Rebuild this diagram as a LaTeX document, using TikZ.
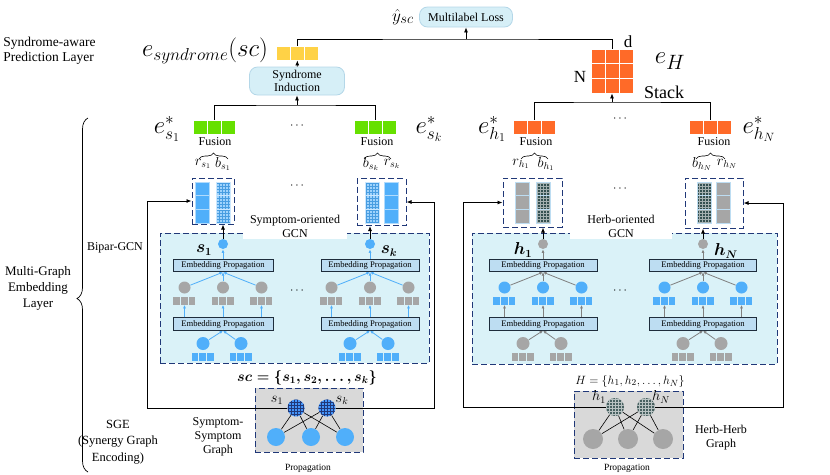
\documentclass[tikz,border=0pt]{standalone}
\usepackage{fontspec}
\setmainfont{Liberation Serif}
\usetikzlibrary{arrows.meta,patterns,decorations.pathreplacing,positioning}

\definecolor{lossfill}{RGB}{214,239,247}
\definecolor{lossline}{RGB}{180,215,232}
\definecolor{gcnfill}{RGB}{218,242,248}
\definecolor{navy}{RGB}{32,56,120}
\definecolor{propfill}{RGB}{189,221,242}
\definecolor{propline}{RGB}{30,45,60}
\definecolor{sblue}{RGB}{80,175,250}
\definecolor{hgray}{RGB}{166,166,166}
\definecolor{arrgray}{RGB}{128,128,128}
\definecolor{vgreen}{RGB}{102,224,0}
\definecolor{vyellow}{RGB}{255,210,70}
\definecolor{vorange}{RGB}{255,106,40}
\definecolor{darkslate}{RGB}{52,80,80}
\definecolor{graphfill}{RGB}{217,217,217}

\tikzset{
  every node/.style={font=\fontsize{12}{14}\selectfont, inner sep=1pt},
  softbox/.style={draw=lossline, fill=lossfill, rounded corners=8pt, align=center, inner sep=2pt},
  prop/.style={draw=propline, fill=propfill, line width=0.8pt, minimum height=12.5pt, inner sep=0pt, font=\fontsize{8.6}{10}\selectfont},
  navydash/.style={draw=navy, dash pattern=on 6pt off 3pt, line width=1pt, inner sep=0pt},
  ball/.style={circle, fill=#1, inner sep=0pt, minimum size=10pt},
  arr/.style={-{Latex[length=5pt,width=4pt]}, line width=0.8pt},
  flow/.style={draw=#1, line width=0.8pt, -{Latex[length=3.5pt,width=3pt]}},
  bigmath/.style={font=\fontsize{25}{27}\selectfont},
  midmath/.style={font=\fontsize{16}{18}\selectfont\boldmath},
  smallmath/.style={font=\fontsize{14}{16}\selectfont},
  fbrace/.style={decorate, decoration={brace, amplitude=6pt}, line width=0.6pt},
  solidcol/.style={fill=sblue, draw=sblue!45!white, line width=0.5pt},
  hatchcol/.style={preaction={fill=sblue!55}, pattern=grid, pattern color=sblue!90!black, draw=sblue!30!white, line width=0.5pt},
  graycol/.style={fill=hgray, draw=propfill, line width=0.5pt},
  darkcol/.style={preaction={fill=darkslate}, pattern=grid, pattern color=darkslate!45!white, draw=propfill, line width=0.5pt},
  sgnode/.style={circle, inner sep=0pt, minimum size=17pt, preaction={fill=sblue!85!blue}, pattern=grid, pattern color=navy},
  hgnode/.style={circle, inner sep=0pt, minimum size=18pt, preaction={fill=darkslate!90}, pattern=grid, pattern color=darkslate!35!white},
}

% embedding vector of three cells
\newcommand{\embvec}[4]{%
  \node[minimum width=42pt, minimum height=14pt, inner sep=0pt] (#1) at (#2,#3) {};
  \foreach \k in {0,1,2}
    \filldraw[fill=#4, draw=white, line width=0.6pt] (#2-21+\k*14,#3-7) rectangle ++(14,14);
}
% small row of squares
\newcommand{\sqrow}[4]{%
  \node[minimum width=23pt, minimum height=8pt, inner sep=0pt] (#1) at (#2,#3) {};
  \foreach \k in {0,1,2}
    \fill[#4] (#2-11.5+\k*7.8,#3-4) rectangle ++(6.8,8);
}
% column of three cells
\newcommand{\colcells}[2]{%
  \foreach \k in {0,1,2}
    \filldraw[#2] (#1,182+\k*13.67) rectangle ++(14.5,13.67);
}
% one propagation tower
\newcommand{\gcnblock}[6]{%
  \node[ball=#4] (#1t) at (#2,244) {};
  \node[prop, minimum width=#3] (#1p) at (#2,265.5) {Embedding Propagation};
  \node[prop, minimum width=#3] (#1q) at (#2,324) {Embedding Propagation};
  \draw[flow=#6] (#1p) -- (#1t);
  \foreach \d [count=\n] in {-38.5,0,38.5} {
    \node[ball=#5, minimum size=12pt] (#1m\n) at (#2+\d,287.5) {};
    \sqrow{#1r\n}{#2+\d}{300.5}{#5}
    \draw[flow=#6] (#1m\n) -- (#1p.south);
    \draw[flow=#6] (#1r\n.south |- #1q.north) -- (#1r\n.south);
  }
  \foreach \d [count=\n] in {-20,18} {
    \node[ball=#4, minimum size=13pt] (#1b\n) at (#2+\d,343.5) {};
    \sqrow{#1u\n}{#2+\d}{356.5}{#4}
    \draw[flow=#6] (#1b\n) -- (#1q.south);
  }
}

\begin{document}
\begin{tikzpicture}[x=1pt, y=-1pt, line width=0.8pt]
		\useasboundingbox (0,0) rectangle (830,474);
		%%%%%%%%%%%%%
		\node[align=left, anchor=west, font=\fontsize{13.5}{15.5}\selectfont] (predlayer) at (2,51) {Syndrome-aware\\Prediction Layer};
		\node[align=center, font=\fontsize{13}{16}\selectfont] (embedlayer) at (38,288) {Multi-Graph\\Embedding\\Layer};
		\node (bipar) at (115,248) {Bipar-GCN};
		\node[align=center, font=\fontsize{12.5}{16.5}\selectfont] (sge) at (118,442) {SGE\\(Synergy Graph\\Encoding)};
		\draw[decorate, decoration={brace, amplitude=11pt, aspect=0.49}, line width=0.7pt] (88,472) -- (88,118);
		%%%%%%%%%%%%%
		\node[softbox, minimum width=93pt, minimum height=20pt] (loss) at (466,17) {Multilabel Loss};
		\node[font=\fontsize{19}{21}\selectfont, inner sep=0pt, left=5pt of loss.west] (yhat) {$\hat{y}_{sc}$};
		\embvec{yvec}{297.5}{53}{vyellow}
		\node[bigmath] (esyn) at (205,51) {$e_{syndrome}(sc)$};
		\node[softbox, minimum width=95pt, minimum height=28pt, font=\fontsize{12}{13.5}\selectfont] (induct) at (297,81) {Syndrome\\Induction};
		\node[minimum width=42pt, minimum height=44pt, inner sep=0pt] (mat) at (612,71) {};
		\foreach \i in {0,1,2}
			\foreach \j in {0,1,2}
				\filldraw[fill=vorange, draw=white, line width=0.6pt] (591+\i*14,49+\j*14.67) rectangle ++(14,14.67);
		\node[font=\fontsize{17}{18}\selectfont] (dlab) at (628,42) {d};
		\node[font=\fontsize{17}{18}\selectfont] (nlab) at (580,77) {N};
		\node[font=\fontsize{28}{30}\selectfont] (eh) at (670,61) {$e_H$};
		\node[font=\fontsize{18}{20}\selectfont] (stack) at (664,92) {Stack};
		%%%%%%%%%%%%%
		\coordinate (losspt) at (466,39);
		\draw (yvec.north) |- (losspt) -| (mat.north);
		\draw[arr] (losspt) -- (loss);
		\draw[arr] (induct) -- (yvec);
		%%%%%%%%%%%%%
		\embvec{gs1}{214.5}{127}{vgreen}
		\embvec{gsk}{375.5}{127}{vgreen}
		\embvec{oh1}{534.5}{127}{vorange}
		\embvec{ohN}{710}{127}{vorange}
		\node[bigmath] (es1) at (167,129) {$e^*_{s_1}$};
		\node[bigmath] (esk) at (429,129) {$e^*_{s_k}$};
		\node[bigmath] (eh1) at (492,129) {$e^*_{h_1}$};
		\node[bigmath] (ehN) at (759,129) {$e^*_{h_N}$};
		\node (sdots) at (297,126) {$\cdots$};
		\node (hdots) at (620,119) {$\cdots$};
		\coordinate (indpt) at (297,105);
		\draw (gs1.north) |- (indpt) -| (gsk.north);
		\draw[arr] (indpt) -- (induct);
		\coordinate (stkpt) at (612,102);
		\draw (oh1.north) |- (stkpt) -| (ohN.north);
		\draw[arr] (stkpt) -- (mat);
		%%%%%%%%%%%%%
		\node (fs1) at (215,142) {Fusion};
		\node (fsk) at (377,142) {Fusion};
		\node (fh1) at (536,142) {Fusion};
		\node (fhN) at (714,142) {Fusion};
		\draw[fbrace] (199,159) -- (228,159);
		\draw[fbrace] (364,159) -- (391,159);
		\draw[fbrace] (521,159) -- (548,159);
		\draw[fbrace] (696,159) -- (725,159);
		\node[smallmath] (rs1) at (203,164) {$r_{s_1}$};
		\node[smallmath] (bs1) at (223,164) {$b_{s_1}$};
		\node[smallmath] (bsk) at (371,164) {$b_{s_k}$};
		\node[smallmath] (rsk) at (392,164) {$r_{s_k}$};
		\node[smallmath] (rh1) at (521,164) {$r_{h_1}$};
		\node[smallmath] (bh1) at (546,164) {$b_{h_1}$};
		\node[smallmath] (bhN) at (702,164) {$b_{h_N}$};
		\node[smallmath] (rhN) at (727,164) {$r_{h_N}$};
		%%%%%%%%%%%%%
		\node[navydash, minimum width=42pt, minimum height=46pt] (sb1) at (213,201) {};
		\node[navydash, minimum width=49pt, minimum height=47pt] (sbk) at (381.5,202) {};
		\node[navydash, minimum width=59pt, minimum height=49pt] (hb1) at (532.5,202.5) {};
		\node[navydash, minimum width=58pt, minimum height=50pt] (hbN) at (714,203) {};
		\colcells{195}{solidcol}
		\colcells{216}{hatchcol}
		\colcells{365}{hatchcol}
		\colcells{384}{solidcol}
		\colcells{515}{graycol}
		\colcells{536}{darkcol}
		\colcells{697}{darkcol}
		\colcells{716}{graycol}
		\node (sdots2) at (297,186) {$\cdots$};
		\node (hdots2) at (620,189) {$\cdots$};
		%%%%%%%%%%%%%
		\node[navydash, fill=gcnfill, minimum width=269pt, minimum height=130pt] (sgcn) at (294.5,298) {};
		\node[navydash, fill=gcnfill, minimum width=305pt, minimum height=131pt] (hgcn) at (624.5,298.5) {};
		\node[fill=white, align=center, minimum width=104pt, inner sep=2pt] (stitle) at (295,226) {Symptom-oriented\\GCN};
		\node[fill=white, align=center, minimum width=102pt, inner sep=2pt] (htitle) at (621,226) {Herb-oriented\\GCN};
		\gcnblock{sA}{223}{100pt}{sblue}{hgray}{sblue}
		\gcnblock{sB}{370}{98pt}{sblue}{hgray}{sblue}
		\gcnblock{hA}{543}{108pt}{hgray}{sblue}{arrgray}
		\gcnblock{hB}{703}{107pt}{hgray}{sblue}{arrgray}
		\node (sdots3) at (297,291) {$\cdots$};
		\node (hdots3) at (620,291) {$\cdots$};
		\node[midmath] (s1lab) at (204,250) {$s_1$};
		\node[midmath] (sklab) at (389,251) {$s_k$};
		\node[midmath] (h1lab) at (523,250) {$h_1$};
		\node[midmath] (hNlab) at (726,251) {$h_N$};
		\draw[arr] (sAt) -- (sAt |- sb1.south);
		\draw[arr] (sBt) -- (sBt |- sbk.south);
		\draw[arr] (hAt) -- (hAt |- hb1.south);
		\draw[arr] (hBt) -- (hBt |- hbN.south);
		%%%%%%%%%%%%%
		\node[font=\fontsize{14}{16}\selectfont\boldmath] (scset) at (307,378) {$sc=\{s_1,s_2,\dots,s_k\}$};
		\node[font=\fontsize{13}{15}\selectfont] (hset) at (630,381) {$H=\{h_1,h_2,\dots,h_N\}$};
		\node[navydash, fill=graphfill, minimum width=108pt, minimum height=64pt] (sgraph) at (309,420) {};
		\node[navydash, fill=graphfill, minimum width=109pt, minimum height=67pt] (hgraph) at (628.5,424.5) {};
		\coordinate (lfl) at (147,408);
		\coordinate (lfr) at (434,408);
		\coordinate (hfl) at (463,407);
		\coordinate (hfr) at (783,407);
		\node[sgnode] (ss1) at (296,408) {};
		\node[sgnode] (ssk) at (327,408) {};
		\node[hgnode] (hs1) at (615,407) {};
		\node[hgnode] (hsN) at (646,407) {};
		\draw[arr] (ss1) -- (lfl) |- (sb1);
		\draw[arr] (ssk) -- (lfr) |- (sbk);
		\draw[arr] (hs1) -- (hfl) |- (hb1);
		\draw[arr] (hsN) -- (hfr) |- (hbN);
		\foreach \x [count=\n] in {276,311,345}
			\node[ball=sblue, minimum size=18pt] (sg\n) at (\x,437) {};
		\foreach \x [count=\n] in {593,628,663}
			\node[ball=hgray, minimum size=20pt] (hg\n) at (\x,439) {};
		\foreach \a in {ss1,ssk}
			\foreach \b in {sg1,sg2,sg3}
				\draw[line width=0.6pt] (\a) -- (\b);
		\foreach \a in {hs1,hsN}
			\foreach \b in {hg1,hg2,hg3}
				\draw[line width=0.6pt] (\a) -- (\b);
		\node[smallmath] (ss1lab) at (277,400) {$s_1$};
		\node[smallmath] (ssklab) at (342,400) {$s_k$};
		\node[smallmath] (hs1lab) at (599,397) {$h_1$};
		\node[smallmath] (hsNlab) at (661,397) {$h_N$};
		\node[font=\fontsize{9.5}{11}\selectfont] (sprop) at (308,468) {Propagation};
		\node[font=\fontsize{9.5}{11}\selectfont] (hprop) at (627,468) {Propagation};
		\node[align=center] (ssgraph) at (218,437) {Symptom-\\Symptom\\Graph};
		\node[align=center] (hhgraph) at (721,438) {Herb-Herb\\Graph};
		%%%%%%%%%%%%%%
	\end{tikzpicture}
\end{document}
